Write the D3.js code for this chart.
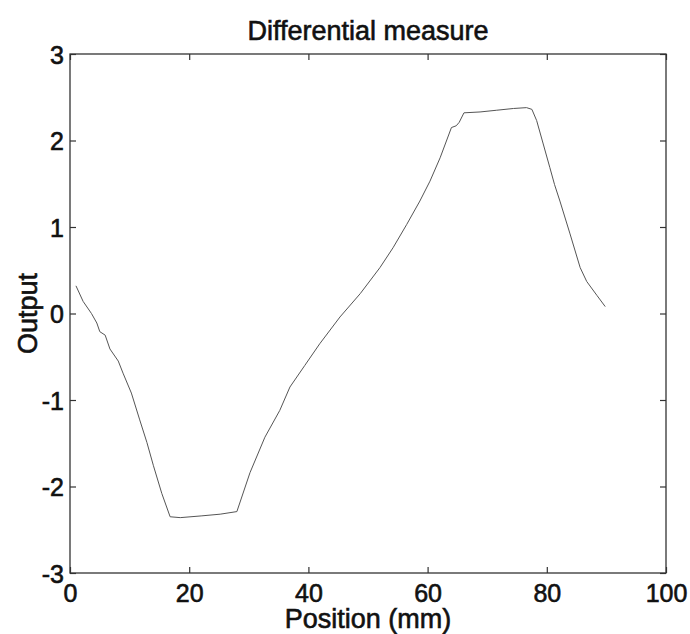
<!DOCTYPE html>
<html>
<head>
<meta charset="utf-8">
<script src="https://cdn.jsdelivr.net/npm/d3@7"></script>
<style>
  body { margin: 0; background: #fff; }
  text { font-family: "Liberation Sans", Arial, sans-serif; fill: #111; stroke: #111; stroke-width: 0.6px; }
</style>
</head>
<body>
<script>
var position = [1.0, 2.2, 3.6, 4.5, 5.0, 5.9, 6.7, 8.1, 8.9, 10.3, 11.7, 12.9, 14.0, 15.4, 16.8,
    18.5, 22.0, 25.2, 28.0, 30.2, 32.7, 35.2, 36.9, 39.4, 41.9, 45.3, 48.7, 52.0, 54.2, 56.5,
    58.7, 60.4, 62.1, 64.0, 64.8, 65.3, 66.1, 68.8, 71.6, 74.4, 76.6, 77.5, 78.3, 79.4, 80.5,
    81.3, 82.2, 83.9, 85.6, 86.7, 88.4, 89.8];
var output = [0.32, 0.14, 0.0, -0.11, -0.21, -0.25, -0.41, -0.55, -0.69, -0.92, -1.23, -1.49, -1.76, -2.08, -2.35,
    -2.36, -2.34, -2.32, -2.29, -1.84, -1.43, -1.12, -0.85, -0.6, -0.35, -0.04, 0.23, 0.53, 0.76, 1.03,
    1.30, 1.53, 1.80, 2.15, 2.17, 2.21, 2.32, 2.33, 2.35, 2.37, 2.38, 2.36, 2.23, 1.96, 1.69,
    1.49, 1.30, 0.92, 0.53, 0.37, 0.21, 0.08];

var xTicks = [0, 20, 40, 60, 80, 100];
var yTicks = [-3, -2, -1, 0, 1, 2, 3];

var width = 690;
var height = 634;

var margin = {
    left: 70,
    right: 24,
    top: 54,
    bottom: 61
};
var innerW = width - margin.left - margin.right;
var innerH = height - margin.top - margin.bottom;

var svg = d3.select("body").append("svg")
    .attr("width", width)
    .attr("height", height);

var x = d3.scaleLinear().domain([0, 100]).range([0, innerW]);
var y = d3.scaleLinear().domain([-3, 3]).range([innerH, 0]);

// plain hyphen for negatives, like the original
var fmt = function (d) { return String(d); };

var g = svg.append("g")
    .attr("transform", `translate(${margin.left} ${margin.top})`);

// inward ticks on all four sides, matlab style
var tickLen = 6;
function styleAxis(sel) {
    sel.select(".domain").remove();
    sel.selectAll(".tick line").attr("stroke", "#333").attr("stroke-width", 1.2);
}

g.append("g")
    .attr("transform", `translate(0 ${innerH})`)
    .call(d3.axisBottom(x).tickValues(xTicks).tickSize(-tickLen).tickPadding(10).tickFormat(fmt))
    .call(styleAxis)
    .selectAll("text")
    .attr("font-size", 25)
    .attr("dy", "0.75em");

g.append("g")
    .call(d3.axisTop(x).tickValues(xTicks).tickSize(-tickLen).tickFormat(""))
    .call(styleAxis);

g.append("g")
    .call(d3.axisLeft(y).tickValues(yTicks).tickSize(-tickLen).tickPadding(6).tickFormat(fmt))
    .call(styleAxis)
    .selectAll("text")
    .attr("font-size", 25)
    .attr("dy", "0.36em");

g.append("g")
    .attr("transform", `translate(${innerW} 0)`)
    .call(d3.axisRight(y).tickValues(yTicks).tickSize(-tickLen).tickFormat(""))
    .call(styleAxis);

// frame
g.append("rect")
    .attr("width", innerW)
    .attr("height", innerH)
    .attr("fill", "none")
    .attr("stroke", "#333")
    .attr("stroke-width", 1.3);

var line = d3.line()
    .x(function (d, i) { return x(position[i]); })
    .y(function (d, i) { return y(output[i]); });

g.append("path")
    .datum(output)
    .attr("d", line)
    .attr("fill", "none")
    .attr("stroke", "#555")
    .attr("stroke-width", 1);

svg.append("text")
    .attr("x", margin.left + innerW / 2)
    .attr("y", 40)
    .attr("text-anchor", "middle")
    .attr("font-size", 27)
    .text("Differential measure");

svg.append("text")
    .attr("x", margin.left + innerW / 2)
    .attr("y", 628)
    .attr("text-anchor", "middle")
    .attr("font-size", 27)
    .text("Position (mm)");

svg.append("text")
    .attr("transform", `translate(37 ${margin.top + innerH / 2}) rotate(-90)`)
    .attr("text-anchor", "middle")
    .attr("font-size", 27)
    .text("Output");
</script>
</body>
</html>
